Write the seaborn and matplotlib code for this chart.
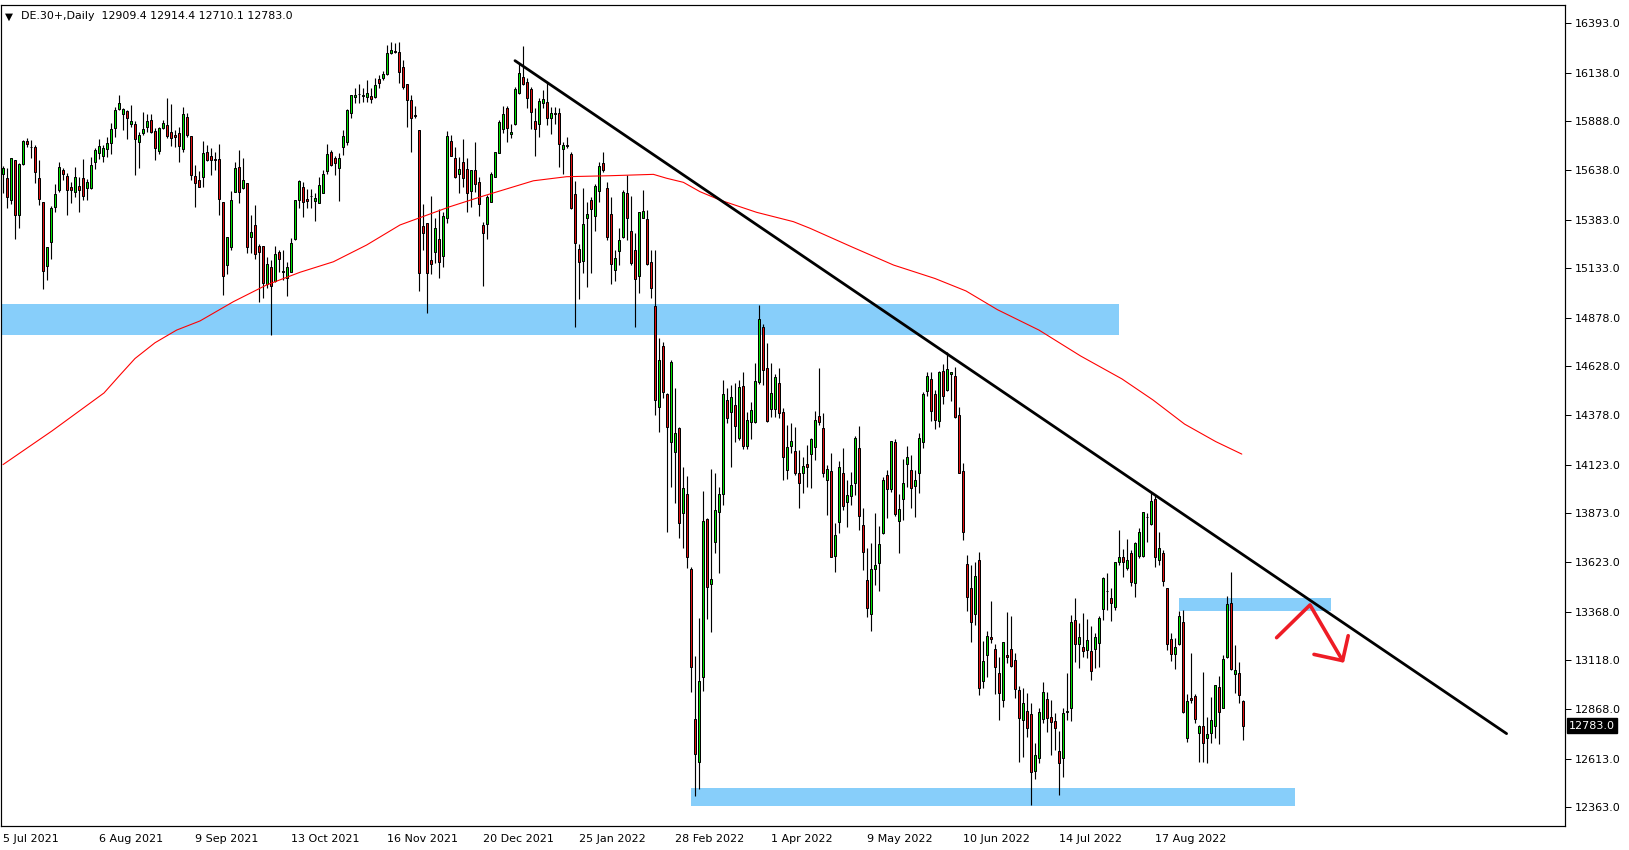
import matplotlib
matplotlib.use("Agg")
import matplotlib.pyplot as plt
import seaborn as sns
import pandas as pd

# ---------------- data ----------------
opens = [15615,15598,15484,15689,15405,15667,15787,15758,15754,15595,15472,15145,15265,15449,15535,15638,15605,15550,15523,15556,
 15595,15547,15544,15681,15727,15711,15746,15775,15852,15949,15924,15941,15876,15874,15783,15826,15857,15895,15838,15737,
 15852,15869,15831,15818,15826,15744,15908,15812,15607,15586,15603,15730,15708,15692,15694,15471,15150,15244,15526,15651,
 15547,15569,15292,15353,15247,15247,15054,15137,15069,15215,15112,15081,15115,15283,15485,15548,15490,15502,15480,15470,
 15521,15634,15728,15701,15646,15754,15783,15932,16014,16026,16020,16011,16017,16011,16105,16108,16129,16237,16249,16242,
 16165,16077,15995,15920,15843,15350,15364,15174,15218,15281,15198,15393,15785,15697,15617,15677,15641,15531,15636,15578,
 15353,15362,15475,15603,15727,15848,15954,15821,15872,16031,16114,16088,16054,15889,15872,15980,15985,15903,15929,15929,
 15744,15766,15718,15513,15232,15172,15389,15483,15401,15530,15672,15543,15410,15124,15221,15295,15517,15324,15226,15093,
 15392,15384,15163,14939,14422,14733,14485,14242,14187,14314,13873,13971,13588,12817,12598,13035,13843,13509,13728,13882,
 13971,14456,14396,14430,14263,14528,14221,14345,14341,14550,14829,14619,14408,14408,14542,14396,14097,14221,14194,14079,
 14082,14127,14177,14213,14374,14310,14045,14091,13656,13831,14079,13934,13963,14031,14208,13814,13531,13355,13586,13617,
 13771,14071,13997,14238,13836,13946,14125,14096,14016,14079,14242,14504,14562,14487,14350,14605,14507,14588,14579,14379,
 14091,13614,13489,13355,13634,13013,13146,13240,13175,13052,12915,13146,13177,13120,12966,12812,12858,12843,12550,12615,
 12815,12918,12826,12807,12655,12615,12851,12872,13326,13201,13189,13172,13166,13175,13206,13380,13476,13437,13394,13622,
 13647,13591,13668,13514,13656,13656,13853,13817,13945,13634,13668,13488,13226,13149,13202,13314,12721,12923,12935,12744,
 12781,12718,12747,12783,12983,12875,13137,13411,13048,13052,12909.4]
highs = [15658,15646,15698,15689,15672,15792,15800,15792,15766,15689,15472,15241,15453,15564,15679,15646,15621,15578,15651,15600,
 15694,15593,15703,15749,15795,15766,15809,15881,15960,16023,15958,15946,15972,15891,15835,15934,15925,15924,15855,15857,
 15895,16006,15977,15843,15860,15960,15929,15812,15663,15634,15787,15766,15749,15732,15771,15471,15293,15530,15677,15740,
 15697,15569,15406,15458,15256,15247,15192,15175,15249,15227,15227,15167,15290,15483,15586,15578,15540,15540,15518,15603,
 15638,15771,15740,15709,15723,15843,15951,16023,16057,16077,16060,16100,16060,16112,16125,16146,16279,16293,16288,16293,
 16202,16077,16023,15966,15843,15463,15364,15502,15389,15437,15424,15838,15817,15754,15706,15797,15701,15636,15780,15603,
 15370,15509,15629,15732,15894,15966,15966,15872,16065,16185,16274,16112,16065,15954,16006,16048,16086,15963,15963,15954,
 15783,15809,15732,15583,15256,15543,15475,15501,15566,15680,15728,15578,15500,15226,15338,15535,15612,15504,15312,15423,
 15535,15432,15226,15226,14773,14756,14490,14661,14516,14319,14114,14065,13600,13141,13338,13988,13848,14100,14083,14007,
 14559,14519,14533,14542,14559,14602,14396,14447,14644,14944,14846,14747,14644,14590,14619,14413,14328,14336,14319,14199,
 14165,14225,14262,14401,14618,14387,14122,14182,13822,14143,14208,14045,14084,14271,14322,13899,13694,13720,13874,13809,
 14062,14096,14245,14256,13973,14153,14220,14173,14096,14285,14499,14598,14598,14507,14605,14641,14704,14601,14627,14418,
 14131,13660,13608,13626,13677,13218,13269,13423,13203,13134,13211,13369,13348,13158,12987,12975,12952,12898,12692,12875,
 13009,12958,12915,12846,12755,12872,13052,13351,13440,13308,13363,13331,13296,13257,13348,13545,13565,13488,13625,13788,
 13689,13740,13685,13728,13800,13882,13873,13976,13962,13779,13685,13488,13257,13231,13374,13377,12944,13158,12946,12786,
 13060,12829,12932,12992,13038,13146,13449,13574,13197,13112,12914.4]
lows = [15518,15444,15461,15285,15342,15663,15758,15698,15573,15458,15028,15073,15182,15424,15526,15586,15408,15470,15497,15424,
 15484,15482,15540,15645,15693,15681,15706,15720,15809,15946,15843,15799,15860,15612,15646,15818,15835,15826,15689,15720,
 15847,15804,15763,15758,15681,15732,15809,15586,15449,15549,15552,15684,15612,15637,15406,14995,15103,15227,15523,15470,
 15540,15210,15210,15180,14961,14978,15033,14792,15064,15115,15072,14992,15112,15278,15444,15398,15441,15444,15377,15466,
 15518,15615,15660,15612,15480,15714,15766,15906,15980,15980,15988,15985,15980,16006,16057,16100,16125,16233,16237,16083,
 16052,15860,15732,15903,15018,15227,14905,15103,15162,15081,15141,15367,15710,15595,15521,15552,15424,15449,15526,15401,
 15043,15283,15471,15600,15723,15826,15783,15800,15869,16028,16074,15954,15848,15711,15809,15954,15869,15821,15872,15655,
 15615,15749,15436,14829,14973,15110,15035,15110,15326,15475,15629,15278,15050,15069,15149,15286,15278,15149,14829,15004,
 15389,15149,14978,14379,14293,14465,13779,14010,13925,13748,13697,13594,12958,12423,12456,12963,13331,13266,13671,13569,
 13916,14336,14114,14239,14251,14204,14204,14254,14336,14536,14533,14345,14370,14370,14362,14045,14048,14182,14070,13899,
 13976,14011,14006,14148,14327,14059,13865,13648,13574,13775,13891,13805,13917,13968,13788,13583,13343,13271,13506,13477,
 13766,13851,13985,13862,13672,13839,14011,13899,13857,13977,14211,14478,14350,14305,14319,14434,14504,14451,14362,14083,
 13737,13374,13215,13300,12941,12975,13031,13206,12944,12812,12881,13103,13086,12923,12598,12620,12726,12375,12507,12593,
 12795,12752,12632,12658,12427,12518,12812,12809,13112,13081,13137,13129,13018,13081,13086,13326,13377,13322,13377,13608,
 13548,13582,13502,13445,13642,13647,13728,13814,13600,13608,13502,13172,13117,13074,13199,12850,12701,12898,12795,12598,
 12598,12593,12696,12718,12687,12872,13132,13069,12949,12898,12710.1]
closes = [15646,15501,15698,15405,15667,15787,15770,15758,15626,15487,15116,15241,15444,15513,15651,15615,15535,15537,15600,15533,
 15506,15576,15662,15740,15761,15749,15778,15847,15946,15980,15951,15903,15889,15795,15818,15847,15889,15835,15752,15852,
 15881,15814,15800,15809,15763,15925,15818,15614,15569,15549,15723,15689,15687,15690,15487,15095,15293,15482,15646,15526,
 15584,15244,15317,15204,15218,15059,15153,15043,15204,15179,15117,15137,15261,15483,15583,15475,15480,15502,15494,15559,
 15615,15720,15663,15672,15697,15810,15946,16021,16021,16030,16024,16031,16000,16072,16086,16131,16237,16254,16242,16142,
 16065,15995,15903,15913,15110,15316,15110,15153,15341,15167,15401,15812,15711,15603,15641,15598,15521,15636,15566,15461,
 15316,15497,15615,15728,15882,15923,15852,15834,16052,16134,16078,16006,15934,15846,15992,16000,15903,15929,15923,15769,
 15766,15761,15444,15261,15163,15358,15412,15436,15555,15658,15638,15292,15153,15184,15278,15526,15389,15158,15076,15420,
 15427,15153,15030,14456,14661,14499,14316,14653,14285,13822,14002,13651,13086,12636,13012,13834,13493,13534,13889,13973,
 14485,14365,14473,14324,14521,14221,14353,14405,14554,14870,14610,14350,14490,14572,14388,14162,14216,14245,14079,14028,
 14117,14110,14256,14353,14345,14079,14100,13648,13763,14110,13913,13968,14019,14259,13862,13673,13389,13586,13608,13715,
 14045,13999,14245,13870,13894,14028,14161,14002,14045,14259,14487,14579,14401,14353,14598,14478,14613,14601,14370,14083,
 13780,13446,13317,13552,12975,13117,13244,13227,13083,12949,13211,13134,13091,12973,12821,12898,12769,12543,12632,12851,
 12954,12821,12803,12769,12589,12846,12860,13314,13201,13237,13168,13223,13065,13237,13334,13540,13476,13411,13622,13647,
 13622,13634,13522,13719,13779,13879,13853,13937,13651,13697,13528,13201,13149,13185,13348,12855,12910,12915,12815,12783,
 12692,12740,12812,12992,12855,13125,13406,13072,13069,12939,12783.0]

date_labels = ["5 Jul 2021", "6 Aug 2021", "9 Sep 2021", "13 Oct 2021", "16 Nov 2021",
               "20 Dec 2021", "25 Jan 2022", "28 Feb 2022", "1 Apr 2022", "9 May 2022",
               "10 Jun 2022", "14 Jul 2022", "17 Aug 2022"]
bars_per_label = 24
price_ticks = [16393.0, 16138.0, 15888.0, 15638.0, 15383.0, 15133.0, 14878.0, 14628.0,
               14378.0, 14123.0, 13873.0, 13623.0, 13368.0, 13118.0, 12868.0, 12613.0, 12363.0]

# moving average
ma_bars = [0, 12.25, 25.25, 29.5, 33, 38, 43.4, 49.25, 57.6, 65.9, 74.25, 82.6, 90.9, 99.25, 111.75,
           120.1, 132.6, 140.9, 151.75, 162.6, 165.9, 170.1, 174.25, 179.25, 188.4, 197.6,
           201.75, 212.25, 222.65, 233, 240.75, 248.6, 259, 269.4, 279.75, 287.5, 295.4,
           303.2, 309.7]
ma_values = [14124, 14297, 14492, 14590, 14669, 14750, 14815, 14862, 14961, 15047, 15112, 15166, 15252,
             15355, 15449, 15504, 15582, 15603, 15608, 15615, 15595, 15574, 15526, 15483,
             15420, 15372, 15338, 15242, 15149, 15080, 15016, 14920, 14815, 14682, 14564,
             14456, 14332, 14242, 14178]

# trend line
trend_bars = [128, 375.9]
trend_prices = [16199, 12742]

# support / resistance zones: (bar_start, bar_end, price_low, price_high)
zone_bar_start = [-0.5, 172, 294]
zone_bar_end = [279, 323, 332]
zone_low = [14790, 12369, 13373]
zone_high = [14949, 12464, 13437]

# hand drawn red arrow
arrow_bars = [318.4, 326.75, 334.9]
arrow_prices = [13235, 13403, 13117]
head1_bars = [327.75, 334.9, 336.3]
head1_prices = [13149, 13117, 13245]

header = "DE.30+,Daily  12909.4 12914.4 12710.1 12783.0"
last_price = 12783.0

# ---------------- drawing ----------------
sns.set_style("white")
plt.rcParams["font.family"] = ["DejaVu Sans"]

W, H = 1629, 850
fig = plt.figure(figsize=(W / 100, H / 100), dpi=100)
left_px, right_px, top_px, bottom_px = 1, 1565, 5, 826
ax = fig.add_axes([left_px / W, 1 - bottom_px / H, (right_px - left_px) / W, (bottom_px - top_px) / H])

n = len(closes)
df = pd.DataFrame({"bar": range(n), "open": opens, "high": highs, "low": lows, "close": closes})
df["up"] = df["close"] >= df["open"]

px = 0.72  # one pixel in points
blue = "#87CEFA"

for b0, b1, lo, hi in zip(zone_bar_start, zone_bar_end, zone_low, zone_high):
    ax.fill_between([b0, b1], [lo, lo], [hi, hi], color=blue, linewidth=0, zorder=1)

ax.vlines(df["bar"], df["low"], df["high"], color="black", linewidth=px * 1.15, zorder=2)
body_h = (df["close"] - df["open"]).values
colors = ["#00e000" if u else "#e01010" for u in df["up"]]
ax.bar(df["bar"], body_h, bottom=df["open"], width=0.56, color=colors,
       edgecolor="black", linewidth=px, zorder=3)

ma_df = pd.DataFrame({"bar": ma_bars, "ma": ma_values})
sns.lineplot(data=ma_df, x="bar", y="ma", ax=ax, color="#ff0000", linewidth=px * 1.1,
             zorder=4, sort=False)

tr_df = pd.DataFrame({"bar": trend_bars, "price": trend_prices})
sns.lineplot(data=tr_df, x="bar", y="price", ax=ax, color="black", linewidth=2.0, zorder=5)

ar_df = pd.DataFrame({"bar": arrow_bars, "price": arrow_prices})
sns.lineplot(data=ar_df, x="bar", y="price", ax=ax, color="#ee1c25", linewidth=2.6,
             zorder=6, sort=False)
hd_df = pd.DataFrame({"bar": head1_bars, "price": head1_prices})
sns.lineplot(data=hd_df, x="bar", y="price", ax=ax, color="#ee1c25", linewidth=2.6,
             zorder=6, sort=False)

ax.set_xlim(-0.5, 390.5)
ax.set_ylim(12267.5, 16485)
ax.set_xlabel("")
ax.set_ylabel("")

# x axis
ax.set_xticks([i * bars_per_label for i in range(len(date_labels))])
ax.set_xticklabels(date_labels, ha="left")
ax.tick_params(axis="x", direction="out", length=4, width=px, pad=2, labelsize=8, colors="black")

# y axis on the right
ax.yaxis.tick_right()
ax.set_yticks(price_ticks)
ax.set_yticklabels([f"{t:.1f}" for t in price_ticks])
ax.tick_params(axis="y", direction="out", length=4, width=px, pad=3, labelsize=8, colors="black")
ax.tick_params(left=False, labelleft=False)

for s in ax.spines.values():
    s.set_visible(True)
    s.set_color("black")
    s.set_linewidth(px * 1.2)

ax.grid(False)

# last price label
ax.text(1.0027, last_price, f"{last_price:.1f}", transform=ax.get_yaxis_transform(),
        ha="left", va="center", fontsize=8, color="white",
        bbox=dict(boxstyle="square,pad=0.2", facecolor="black", edgecolor="black"))

# header
ax.text(0.0025, 0.992, "\u25BC", transform=ax.transAxes, ha="left", va="top", fontsize=7.5, color="black")
ax.text(0.0125, 0.993, header, transform=ax.transAxes, ha="left", va="top", fontsize=7.9, color="black")

fig.savefig("out.png", dpi=100, facecolor="white")
